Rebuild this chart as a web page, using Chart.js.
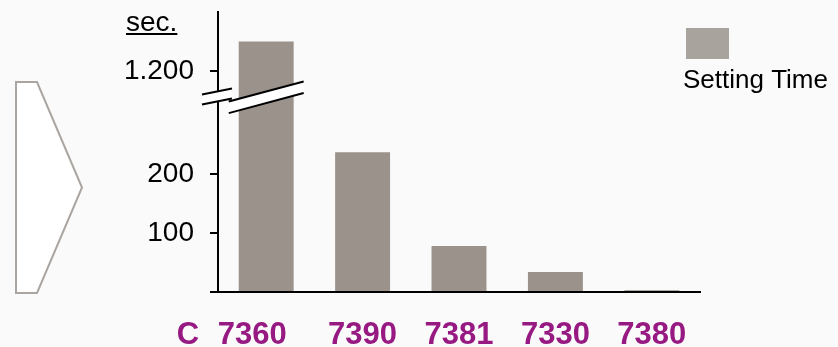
<!DOCTYPE html>
<html lang="en">
<head>
<meta charset="UTF-8">
<title>Setting Time</title>
<script src="https://cdn.jsdelivr.net/npm/chart.js@4.4.1/dist/chart.umd.min.js"></script>
<style>
  html, body { margin: 0; padding: 0; background: #fafafa; }
  #chart { display: block; }
</style>
</head>
<body>
<canvas id="chart" width="838" height="347"></canvas>
<script>
// setting time per model, in seconds
const models = ['7360', '7390', '7381', '7330', '7380'];
const settingTime = [1250, 237, 78, 34, 3];
const yTicks = [0, 100, 200, 1200];

// the value axis skips everything between these two values
const BREAK_FROM = 332;
const BREAK_TO = 1157;
const GAP = BREAK_TO - BREAK_FROM;

const BAR_COLOR = '#9a928b';
const KEY_COLOR = '#a9a39d';
const LABEL_COLOR = '#961a82';
const FONT = '"Liberation Sans", Arial, sans-serif';

// linear scale with a cut: values above BREAK_TO are moved down by GAP
class BrokenLinearScale extends Chart.LinearScale {
    static id = 'brokenLinear';
    static defaults = {};
    configure() {
        super.configure();
        if (this.max > BREAK_TO) this._valueRange -= GAP;
    }
    getPixelForValue(value) {
        if (value >= BREAK_TO) value -= GAP;
        return super.getPixelForValue(value);
    }
}
Chart.register(BrokenLinearScale);

function fmt(v) {
    if (v === 0) return '';
    if (v >= 1000) return Math.floor(v / 1000) + '.' + String(v % 1000).padStart(3, '0');
    return String(v);
}

// white band with two slanted lines, used for the axis break
function breakBand(ctx, x0, x1, cx, cy, half, slope) {
    const yAt = (x, off) => cy + off - slope * (x - cx);
    ctx.save();
    ctx.beginPath();
    ctx.moveTo(x0, yAt(x0, -half));
    ctx.lineTo(x1, yAt(x1, -half));
    ctx.lineTo(x1, yAt(x1, half));
    ctx.lineTo(x0, yAt(x0, half));
    ctx.closePath();
    ctx.fillStyle = '#fff';
    ctx.fill();
    ctx.beginPath();
    ctx.moveTo(x0, yAt(x0, -half));
    ctx.lineTo(x1, yAt(x1, -half));
    ctx.moveTo(x0, yAt(x0, half));
    ctx.lineTo(x1, yAt(x1, half));
    ctx.strokeStyle = '#000';
    ctx.lineWidth = 2;
    ctx.stroke();
    ctx.restore();
}

const decor = {
    id: 'decor',
    beforeDraw(chart) {
        const ctx = chart.ctx;
        // arrow shape on the left
        ctx.save();
        ctx.beginPath();
        ctx.moveTo(16, 82);
        ctx.lineTo(37, 82);
        ctx.lineTo(82, 187.5);
        ctx.lineTo(37, 293);
        ctx.lineTo(16, 293);
        ctx.closePath();
        ctx.fillStyle = '#fff';
        ctx.fill();
        ctx.strokeStyle = '#aaa5a0';
        ctx.lineWidth = 2;
        ctx.stroke();
        ctx.restore();
    },
    afterDraw(chart) {
        const { ctx, scales: { x, y } } = chart;
        const breakY = y.getPixelForValue(BREAK_FROM);

        breakBand(ctx, y.right - 16, y.right + 14, y.right, breakY, 5, 0.2);
        chart.getDatasetMeta(0).data.forEach((bar, i) => {
            if (settingTime[i] >= BREAK_TO) {
                breakBand(ctx, bar.x - bar.width / 2 - 10, bar.x + bar.width / 2 + 10,
                    bar.x, breakY + 1, 5.8, 0.267);
            }
        });

        ctx.save();
        // unit label
        ctx.fillStyle = '#000';
        ctx.font = '28px ' + FONT;
        ctx.textAlign = 'left';
        ctx.textBaseline = 'alphabetic';
        ctx.fillText('sec.', 126, 31);
        const w = ctx.measureText('sec.').width;
        ctx.fillRect(126, 33, w, 2);

        // key
        ctx.fillStyle = KEY_COLOR;
        ctx.fillRect(686, 28, 43, 31);
        ctx.fillStyle = '#000';
        ctx.font = '26px ' + FONT;
        ctx.fillText(chart.data.datasets[0].label, 683, 88);

        // model names under the bars
        ctx.fillStyle = LABEL_COLOR;
        ctx.font = 'bold 31px ' + FONT;
        ctx.textAlign = 'center';
        ctx.fillText('C', 188, 344);
        models.forEach((m, i) => {
            const shift = i === 0 ? -14 : 0;
            ctx.fillText(m, x.getPixelForValue(i) + shift, 344);
        });
        ctx.restore();
    }
};

new Chart(document.getElementById('chart'), {
    type: 'bar',
    data: {
        labels: models,
        datasets: [{
            label: 'Setting Time',
            data: settingTime,
            backgroundColor: BAR_COLOR,
            borderWidth: 0,
            categoryPercentage: 1,
            barPercentage: 0.57
        }]
    },
    options: {
        responsive: false,
        animation: false,
        layout: { padding: { top: 12, right: 138, bottom: 55, left: 0 } },
        plugins: {
            legend: { display: false },
            tooltip: { enabled: false }
        },
        scales: {
            x: {
                grid: { display: false, drawTicks: false },
                ticks: { display: false },
                border: { color: '#000', width: 2 }
            },
            y: {
                type: 'brokenLinear',
                min: 0,
                max: 1300,
                afterBuildTicks(scale) {
                    scale.ticks = yTicks.map(v => ({ value: v }));
                },
                afterFit(scale) {
                    scale.width = 218;
                    scale.paddingTop = 0;
                    scale.paddingBottom = 0;
                },
                grid: {
                    drawOnChartArea: false,
                    drawTicks: true,
                    tickLength: 8,
                    color: '#000',
                    lineWidth: 2
                },
                border: { color: '#000', width: 2 },
                ticks: {
                    autoSkip: false,
                    padding: 16,
                    color: '#000',
                    font: { family: FONT, size: 28 },
                    callback: v => fmt(v)
                }
            }
        }
    },
    plugins: [decor]
});
</script>
</body>
</html>
